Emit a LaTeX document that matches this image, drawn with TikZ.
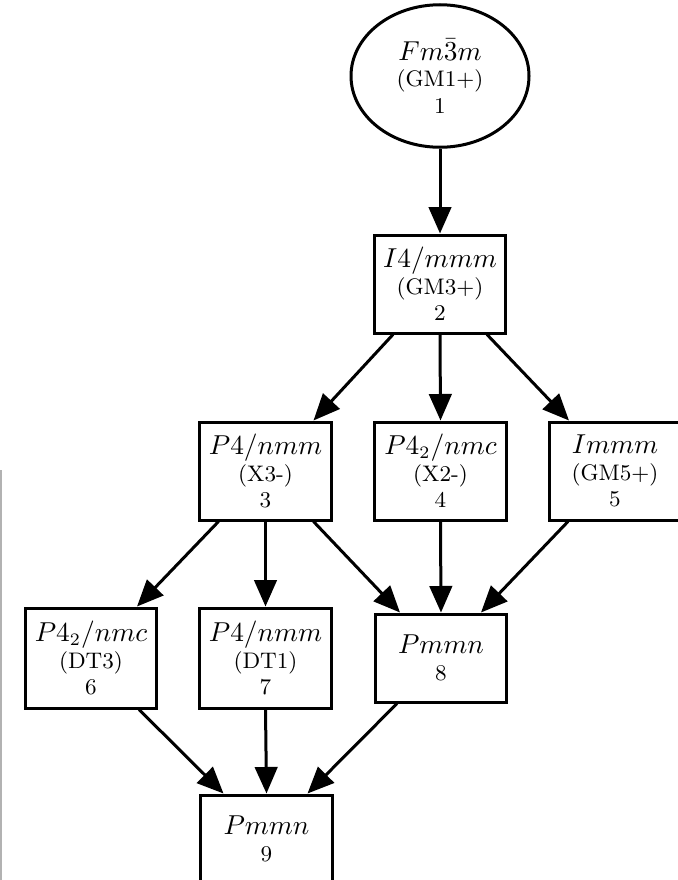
\documentclass[tikz,border=0pt]{standalone}
\usetikzlibrary{arrows.meta,shapes.geometric,calc}
\newcommand{\sgname}[1]{{\fontsize{10.5}{10.5}\selectfont$#1$}}
\begin{document}
\begin{tikzpicture}[x=0.4pt,y=-0.4pt,
  every node/.style={inner sep=0pt, align=center,
    font=\fontsize{9}{10.6}\selectfont},
  grp/.style={draw, line width=1.2pt, rectangle,
    minimum width=52.6pt, minimum height=39.2pt},
  conn/.style={line width=1.2pt, -{Triangle[length=10.6pt,width=9pt]}}]
  \useasboundingbox (0,0) rectangle (678,880);
  \clip (0,0) rectangle (678,880);
  % thin rule along the left edge
  \draw[gray!60, line width=0.8pt] (0.8,470) -- (0.8,880);

  % subgroup lattice
  \node[draw, ellipse, line width=1.2pt, minimum width=71.2pt, minimum height=57pt]
    (n1) at (440,76) {\sgname{Fm\bar{3}m}\\(GM1+)\\1};
  \node[grp] (n2) at (440,284) {\sgname{I4/mmm}\\(GM3+)\\2};
  \node[grp] (n3) at (265.5,471) {\sgname{P4/nmm}\\(X3-)\\3};
  \node[grp] (n4) at (440.5,471) {\sgname{P4_2/nmc}\\(X2-)\\4};
  \node[grp] (n5) at (615,471) {\sgname{Immm}\\(GM5+)\\5};
  \node[grp, minimum height=40pt] (n6) at (91,658) {\sgname{P4_2/nmc}\\(DT3)\\6};
  \node[grp, minimum height=40pt] (n7) at (265.5,658) {\sgname{P4/nmm}\\(DT1)\\7};
  \node[grp, minimum height=35.2pt] (n8) at (441,658) {\sgname{Pmmn}\\8};
  \node[grp, minimum height=35.2pt] (n9) at (266.5,839) {\sgname{Pmmn}\\9};

  \draw[conn] (n1.south) -- (n2.north);
  \draw[conn] ($(n2.south)+(-47,0)$) -- ($(n3.north)+(48,0)$);
  \draw[conn] (n2.south) -- (n4.north);
  \draw[conn] ($(n2.south)+(47,0)$) -- ($(n5.north)+(-46,0)$);
  \draw[conn] ($(n3.south)+(-47,0)$) -- ($(n6.north)+(46,0)$);
  \draw[conn] (n3.south) -- (n7.north);
  \draw[conn] ($(n3.south)+(48,0)$) -- ($(n8.north)+(-41,0)$);
  \draw[conn] (n4.south) -- (n8.north);
  \draw[conn] ($(n5.south)+(-47,0)$) -- ($(n8.north)+(40,0)$);
  \draw[conn] ($(n6.south)+(48,0)$) -- ($(n9.north)+(-43,0)$);
  \draw[conn] (n7.south) -- (n9.north);
  \draw[conn] ($(n8.south)+(-44,0)$) -- ($(n9.north)+(41,0)$);
\end{tikzpicture}
\end{document}
